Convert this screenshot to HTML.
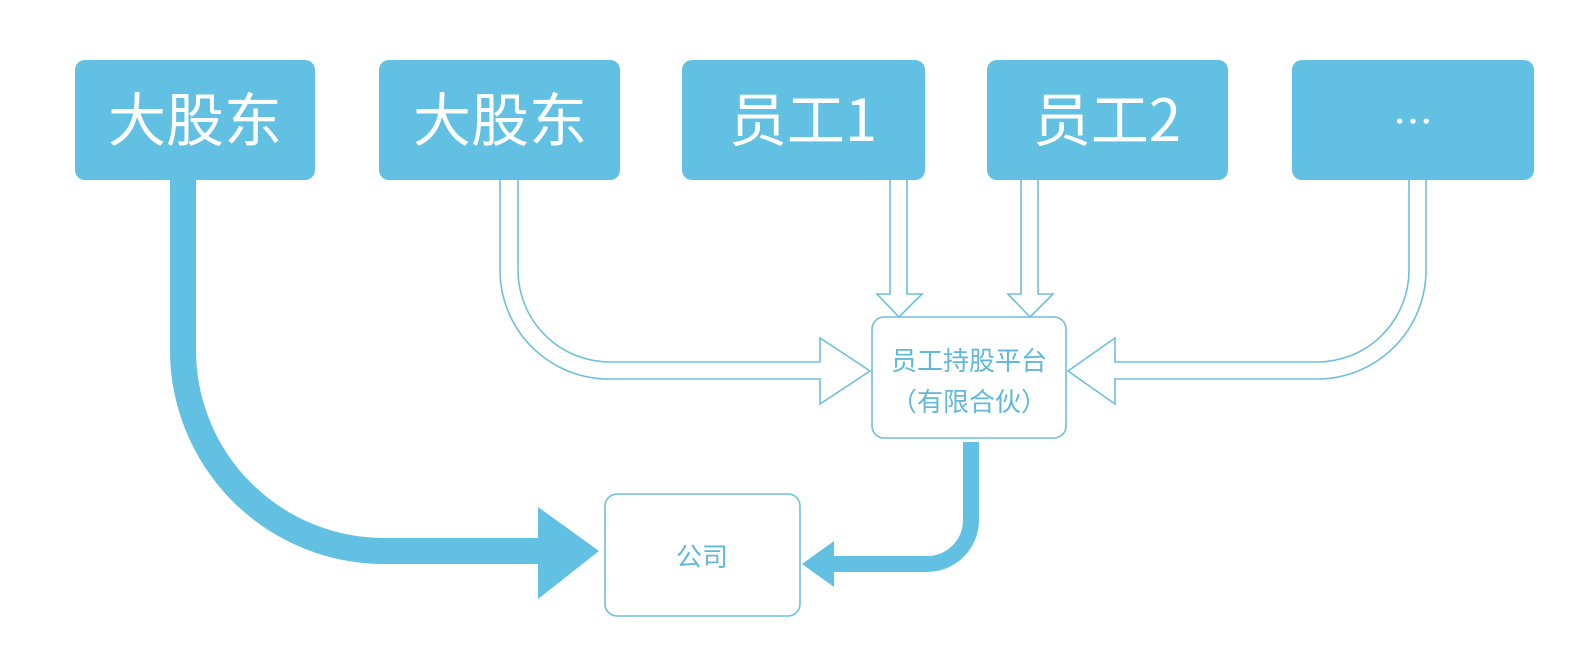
<!DOCTYPE html>
<html><head><meta charset="utf-8"><style>
html,body{margin:0;padding:0;background:#fff;}
svg{display:block}
text{font-family:"Noto Sans CJK SC","Liberation Sans",sans-serif;}
</style></head><body>
<svg width="1592" height="662" viewBox="0 0 1592 662" xmlns="http://www.w3.org/2000/svg">
<g fill="#62c1e3">
<rect x="75" y="60" width="240" height="120" rx="10"/>
<rect x="379" y="60" width="241" height="120" rx="10"/>
<rect x="682" y="60" width="243" height="120" rx="10"/>
<rect x="987" y="60" width="241" height="120" rx="10"/>
<rect x="1292" y="60" width="242" height="120" rx="10"/>
</g>
<g fill="#fff" font-size="58" text-anchor="middle">
<text x="195" y="141">大股东</text>
<text x="500" y="141">大股东</text>
<text x="803" y="141">员工1</text>
<text x="1107" y="141">员工2</text>
<text x="1413" y="136" font-size="40">…</text>
</g>
<!-- thick left arrow -->
<path d="M183 180 V350 A201 201 0 0 0 384 551 H545" fill="none" stroke="#62c1e3" stroke-width="26"/>
<polygon points="538,507 599,551 538,599" fill="#62c1e3"/>
<!-- platform to company -->
<path d="M971 442 V520 A44 44 0 0 1 927 564 H830" fill="none" stroke="#62c1e3" stroke-width="16"/>
<polygon points="834,541 802,564 834,587" fill="#62c1e3"/>
<!-- hollow arrows -->
<g fill="none" stroke="#6ec0dc" stroke-width="1.6">
<path d="M500 180 V270 A109 109 0 0 0 609 379 H820 V404 L870 371 L820 338 V362 H610 A92 92 0 0 1 518 270 V180"/>
<path d="M1426 180 V270 A109 109 0 0 1 1317 379 H1115 V404 L1068 371 L1115 338 V362 H1317 A92 92 0 0 0 1409 270 V180"/>
<path d="M890 180 V294 H877 L899 317 L922 294 H907 V180"/>
<path d="M1021 180 V294 H1008 L1030 317 L1053 294 H1038 V180"/>
</g>
<g fill="none" stroke="#6ec0dc" stroke-width="1.6">
<rect x="872" y="317" width="194" height="121" rx="12"/>
<rect x="605" y="494" width="195" height="122" rx="12"/>
</g>
<g fill="#62b8d8" text-anchor="middle">
<text x="969" y="370" font-size="26">员工持股平台</text>
<text x="969" y="411" font-size="26">（有限合伙）</text>
<text x="702" y="566" font-size="26">公司</text>
</g>
</svg>
</body></html>
